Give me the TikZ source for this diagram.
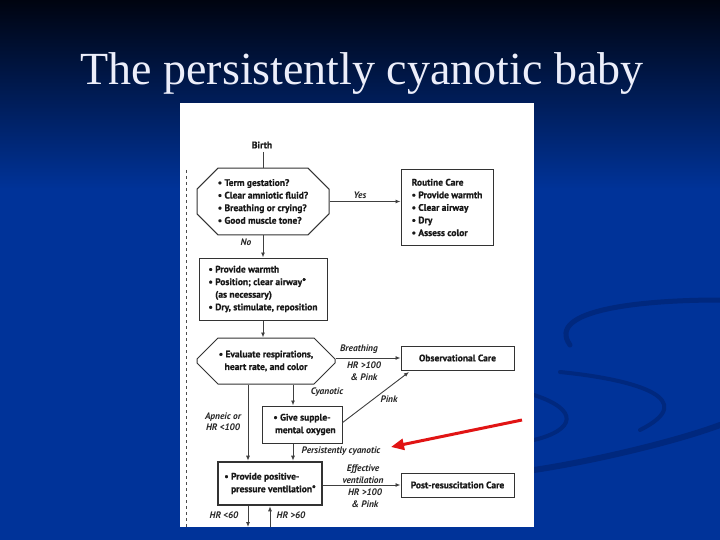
\documentclass[tikz,border=0pt]{standalone}
\usepackage{fontspec}
\setmainfont{Liberation Serif}
\newfontfamily\fc[BoldFeatures={FakeBold=0.8}]{PT Sans}
\usetikzlibrary{shapes.misc,arrows.meta,calc}
\definecolor{bgblue}{RGB}{0,51,153}
\definecolor{bgtop}{RGB}{0,4,16}
\definecolor{swirl}{RGB}{0,40,126}
\definecolor{titlec}{RGB}{236,238,250}
\definecolor{redarr}{RGB}{225,20,20}
\begin{document}
\begin{tikzpicture}[x=1pt,y=-1pt,
  txt/.style={font=\fc\bfseries\fontsize{9.5}{12.6}\selectfont, text=black!90},
  lbl/.style={font=\fc\bfseries\itshape\fontsize{9.4}{11.5}\selectfont, text=black!85, inner sep=0pt, align=center},
  box/.style={draw=black!80, line width=1pt, fill=white, txt, inner sep=0pt},
  oct/.style={chamfered rectangle, chamfered rectangle xsep=10pt, chamfered rectangle ysep=11pt, draw=black!80, line width=1pt, fill=white, txt, inner sep=0pt},
  ln/.style={line width=0.9pt, draw=black!75},
  arr/.style={ln, -{Latex[length=5pt,width=4pt]}},
]
% background
\useasboundingbox (0,0) rectangle (720,540);
\fill[bgblue] (0,0) rectangle (720,540);
\shade[top color=bgtop, bottom color=bgblue] (0,0) rectangle (720,190);
% swirls
\draw[swirl, line width=5pt, line cap=round] (720,300) .. controls (640,300) and (545,310) .. (570,345);
\draw[swirl, line width=4pt, line cap=round] (560,372) .. controls (640,380) and (700,400) .. (640,430);
\draw[swirl, line width=4pt, line cap=round] (534,395) .. controls (580,410) and (575,430) .. (534,440);
\draw[swirl, line width=6pt, line cap=round] (534,470) .. controls (600,460) and (680,440) .. (720,425);
% title
\node[text=titlec, font=\fontsize{46}{50}\selectfont, anchor=base] (title) at (362,85) {The persistently cyanotic baby};
% panel
\fill[white] (180,103) rectangle (534,527);
\draw[black!70, dashed, line width=0.8pt] (186,170) -- (186,527);

% nodes
\node[txt] (birth) at (262,145) {Birth};
\node[oct, minimum width=132pt, minimum height=65pt, align=left] (oct1) at (263,201.5)
  {\textbullet\ Term gestation?\\ \textbullet\ Clear amniotic fluid?\\ \textbullet\ Breathing or crying?\\ \textbullet\ Good muscle tone?};
\node[box, minimum width=92pt, minimum height=75pt, align=left] (routine) at (447,207.5)
  {Routine Care\\ \textbullet\ Provide warmth\\ \textbullet\ Clear airway\\ \textbullet\ Dry\\ \textbullet\ Assess color};
\node[box, minimum width=128pt, minimum height=62pt, align=left] (box2) at (263,289)
  {\textbullet\ Provide warmth\\ \textbullet\ Position; clear airway*\\ \hphantom{\textbullet\ }(as necessary)\\ \textbullet\ Dry, stimulate, reposition};
\node[oct, minimum width=138pt, minimum height=46pt, align=center] (oct2) at (266,361)
  {\textbullet\ Evaluate respirations,\\ heart rate, and color};
\node[box, minimum width=113pt, minimum height=24pt] (obs) at (457.5,358) {Observational Care};
\node[box, minimum width=80pt, minimum height=37pt, align=center] (o2) at (302,424.5)
  {\textbullet\ Give supple-\\ \hphantom{\textbullet\ }mental oxygen};
\node[box, line width=2.6pt, minimum width=104pt, minimum height=43pt, align=left] (ppv) at (270,483.5)
  {\textbullet\ Provide positive-\\ \hphantom{\textbullet\ }pressure ventilation*};
\node[box, minimum width=113pt, minimum height=24pt] (post) at (457.5,485) {Post-resuscitation Care};

% helper coordinates
\coordinate (apn) at (248,0);
\coordinate (cy) at (293,0);
\coordinate (up) at (270,0);
\coordinate (bot) at (0,527);
\coordinate (pinkend) at (409,372);

% connectors
\draw[ln] (birth.south -| oct1.north) -- (oct1.north);
\draw[arr] (oct1.east) -- (oct1.east -| routine.west);
\draw[arr] (oct1.south) -- (box2.north);
\draw[arr] (box2.south) -- (box2.south |- oct2.north);
\draw[arr] (obs.west -| oct2.east) -- (obs.west);
\draw[arr] (cy |- oct2.south) -- (cy |- o2.north);
\draw[arr] (apn |- oct2.south) -- (apn |- ppv.north);
\draw[arr] (cy |- o2.south) -- (cy |- ppv.north);
\draw[arr] ($(o2.north east)!0.45!(o2.south east)$) -- (pinkend);
\draw[arr] (post.west -| ppv.east) -- (post.west);
\draw[arr] (apn |- ppv.south) -- (apn |- bot);
\draw[arr] (up |- bot) -- (up |- ppv.south);

% labels
\node[lbl] (yes) at (360,195) {Yes};
\node[lbl] (no) at (246,242) {No};
\node[lbl] (breath) at (359,349) {Breathing};
\node[lbl] (hr1) at (364,371.5) {HR >100\\ \& Pink};
\node[lbl] (cyan) at (327,392) {Cyanotic};
\node[lbl] (apneic) at (223,421.5) {Apneic or\\ HR <100};
\node[lbl] (pink) at (389,399) {Pink};
\node[lbl] (pers) at (341,451) {Persistently cyanotic};
\node[lbl] (eff) at (363,474) {Effective\\ ventilation};
\node[lbl] (hr2) at (365,498.5) {HR >100\\ \& Pink};
\node[lbl] (hr60a) at (224,515) {HR <60};
\node[lbl] (hr60b) at (291,515) {HR >60};

% red arrow
\coordinate (rs) at (522,420);
\coordinate (re) at (391,447);
\draw[redarr, line width=3pt, -{Triangle[length=13pt,width=11pt]}] (rs) -- (re);
\end{tikzpicture}
\end{document}
